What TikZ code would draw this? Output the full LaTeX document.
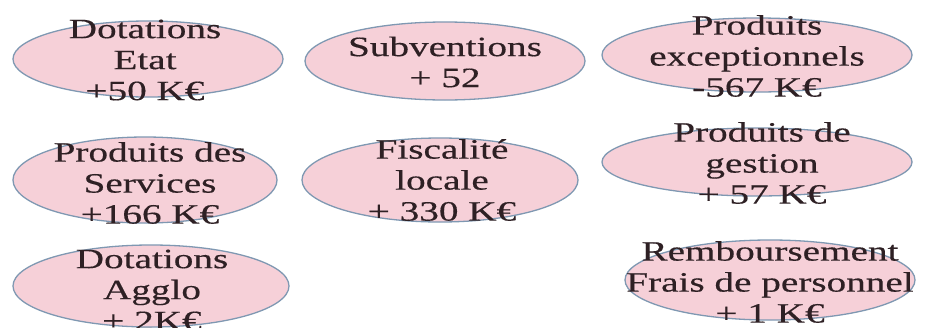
\documentclass[tikz,border=0pt]{standalone}
\usepackage{fontspec}
\setmainfont{Liberation Serif}[FakeStretch=1.4, FakeBold=0.4]
\usetikzlibrary{shapes.geometric}
\definecolor{ellfill}{HTML}{F6D0D8}
\definecolor{elldraw}{HTML}{7F98B2}
\definecolor{txt}{HTML}{2E2024}
\tikzset{
  ell/.style={ellipse, draw=elldraw, fill=ellfill, line width=1.3pt, inner sep=0pt},
  lbl/.style={align=center, text=txt, inner sep=0pt, font=\fontsize{28}{31}\selectfont}
}
\begin{document}
\begin{tikzpicture}[x=1pt, y=-1pt]
\useasboundingbox (0,0) rectangle (926,327);
\fill[white] (0,0) rectangle (926,327);
% ellipses
\node[ell, minimum width=270pt, minimum height=76pt] (e1) at (148,59) {};
\node[ell, minimum width=280pt, minimum height=78pt] (e2) at (445,61) {};
\node[ell, minimum width=310pt, minimum height=74pt] (e3) at (757,55) {};
\node[ell, minimum width=264pt, minimum height=86pt] (e4) at (145,180) {};
\node[ell, minimum width=276pt, minimum height=84pt] (e5) at (440,180) {};
\node[ell, minimum width=310pt, minimum height=68pt] (e6) at (757,162) {};
\node[ell, minimum width=276pt, minimum height=82pt] (e7) at (151,286) {};
\node[ell, minimum width=290pt, minimum height=80pt] (e8) at (770,280) {};
% labels
\node[lbl] (t1) at (145,60) {Dotations\\Etat\\+50 K€};
\node[lbl] (t2) at (445,62) {Subventions\\+ 52};
\node[lbl] (t3) at (757,56) {Produits\\exceptionnels\\-567 K€};
\node[lbl] (t4) at (150,183) {Produits des\\Services\\+166 K€};
\node[lbl] (t5) at (442,180) {Fiscalité\\locale\\+ 330 K€};
\node[lbl] (t6) at (762,163) {Produits de\\gestion\\+ 57 K€};
\node[lbl] (t7) at (152,290) {Dotations\\Agglo\\+ 2K€};
\node[lbl] (t8) at (770,282) {Remboursement\\Frais de personnel\\+ 1 K€};
\end{tikzpicture}
\end{document}
